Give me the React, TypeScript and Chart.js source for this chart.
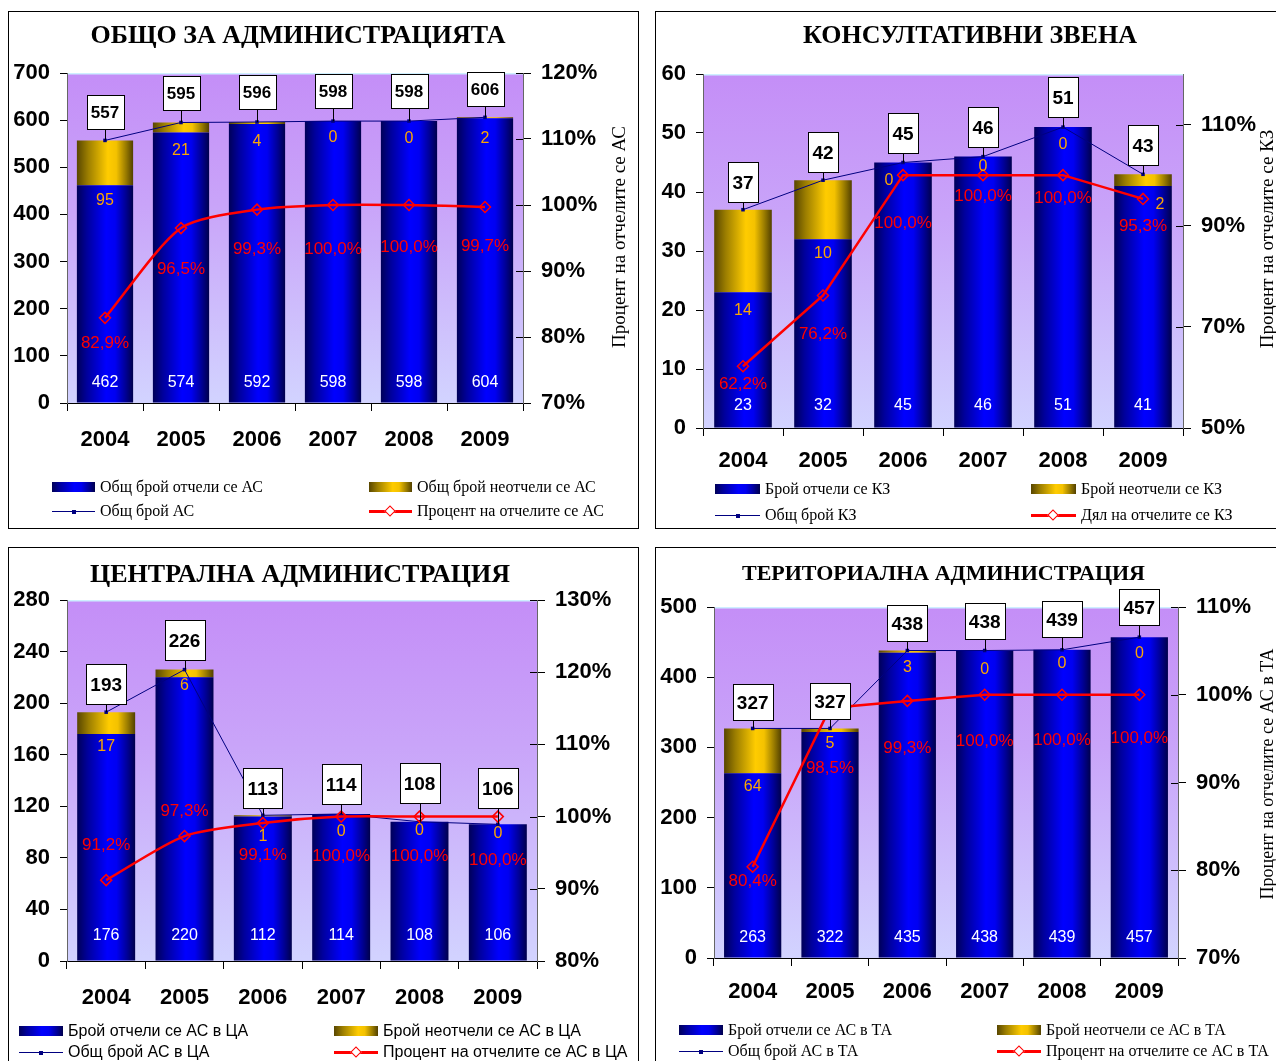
import React, { useEffect, useRef } from "react";
import { Chart, registerables } from "chart.js";

Chart.register(...registerables);

const SANS = "'Liberation Sans', Arial, Helvetica, sans-serif";
const SERIF = "'Liberation Serif', 'Times New Roman', Times, serif";

// Years on the category axis
const years = ["2004", "2005", "2006", "2007", "2008", "2009"];

// Общо за администрацията
const adminReported = [462, 574, 592, 598, 598, 604];
const adminUnreported = [95, 21, 4, 0, 0, 2];
const adminTotal = [557, 595, 596, 598, 598, 606];
const adminShare = [82.9, 96.5, 99.3, 100.0, 100.0, 99.7];
const adminCountTicks = [0, 100, 200, 300, 400, 500, 600, 700];
const adminShareTicks = [70, 80, 90, 100, 110, 120];
const adminLegend = ["Общ брой отчели се АС", "Общ брой неотчели се АС", "Общ брой АС", "Процент на отчелите се АС"];

// Консултативни звена
const kzReported = [23, 32, 45, 46, 51, 41];
const kzUnreported = [14, 10, 0, 0, 0, 2];
const kzTotal = [37, 42, 45, 46, 51, 43];
const kzShare = [62.2, 76.2, 100.0, 100.0, 100.0, 95.3];
const kzCountTicks = [0, 10, 20, 30, 40, 50, 60];
const kzShareTicks = [50, 70, 90, 110];
const kzLegend = ["Брой отчели се КЗ", "Брой неотчели се КЗ", "Общ брой КЗ", "Дял на отчелите се КЗ"];

// Централна администрация
const caReported = [176, 220, 112, 114, 108, 106];
const caUnreported = [17, 6, 1, 0, 0, 0];
const caTotal = [193, 226, 113, 114, 108, 106];
const caShare = [91.2, 97.3, 99.1, 100.0, 100.0, 100.0];
const caCountTicks = [0, 40, 80, 120, 160, 200, 240, 280];
const caShareTicks = [80, 90, 100, 110, 120, 130];
const caLegend = ["Брой отчели се АС в ЦА", "Брой неотчели се АС в ЦА", "Общ брой АС в ЦА", "Процент на отчелите се АС в ЦА"];

// Териториална администрация
const taReported = [263, 322, 435, 438, 439, 457];
const taUnreported = [64, 5, 3, 0, 0, 0];
const taTotal = [327, 327, 438, 438, 439, 457];
const taShare = [80.4, 98.5, 99.3, 100.0, 100.0, 100.0];
const taCountTicks = [0, 100, 200, 300, 400, 500];
const taShareTicks = [70, 80, 90, 100, 110];
const taLegend = ["Брой отчели се АС в ТА", "Брой неотчели се АС в ТА", "Общ брой АС в ТА", "Процент на отчелите се АС в ТА"];

type Stops = [number, string][];
const BLUE_STOPS: Stops = [[0, "#000058"], [0.18, "#00009C"], [0.52, "#0000FF"], [0.68, "#0000F2"], [0.86, "#000098"], [1, "#00004C"]];
const GOLD_STOPS: Stops = [[0, "#584600"], [0.2, "#9C7E00"], [0.55, "#FFCC00"], [0.7, "#F4C200"], [0.87, "#9A7C00"], [1, "#524000"]];
const cssGradient = (s: Stops) => `linear-gradient(to right, ${s.map(([o, c]) => `${c} ${o * 100}%`).join(", ")})`;

const NAVY = "#000080";
const RED = "#FF0000";
const ORANGE = "#F9A602";

type Rect = { left: number; top: number; right: number; bottom: number };

interface Panel {
  key: string;
  title: string;
  titleSize: number;
  titleX: number;
  titleY: number;
  frame: Rect;
  plot: Rect;
  reported: number[];
  unreported: number[];
  total: number[];
  share: number[];
  countMax: number;
  countTicks: number[];
  shareMin: number;
  shareMax: number;
  shareTicks: number[];
  axisTitle?: { text: string; x: number; y: number; size: number };
  legend: string[];
  legendFont: string;
  legendCols: [number, number];
  legendRows: [number, number];
  swatchW: number;
  barPct: number;
  xPad: number;
  tension: number;
  reportedDy: number;
  unreportedDy: number[];
  unreportedDx: number[];
  shareDy: number[];
  boxDy: number[];
  boxFont: number;
  boxH: number;
}

const panels: Panel[] = [
  {
    key: "admin",
    title: "ОБЩО ЗА АДМИНИСТРАЦИЯТА",
    titleSize: 26, titleX: 298, titleY: 35.5,
    frame: { left: 8, top: 11, right: 639, bottom: 529 },
    plot: { left: 67, top: 73, right: 523, bottom: 403 },
    reported: adminReported, unreported: adminUnreported, total: adminTotal, share: adminShare,
    countMax: 700, countTicks: adminCountTicks,
    shareMin: 70, shareMax: 120, shareTicks: adminShareTicks,
    axisTitle: { text: "Процент на отчелите се АС", x: 620.5, y: 237, size: 19 },
    legend: adminLegend, legendFont: SERIF,
    legendCols: [52, 369], legendRows: [487, 511], swatchW: 43,
    barPct: 0.74, xPad: 16, tension: 0.25,
    reportedDy: -20,
    unreportedDy: [15, 18, 18, 17, 18, 20],
    unreportedDx: [0, 0, 0, 0, 0, 0],
    shareDy: [25, 41, 40, 44, 42, 39],
    boxDy: [-28, -30, -30, -30, -30, -28],
    boxFont: 17, boxH: 34,
  },
  {
    key: "kz",
    title: "КОНСУЛТАТИВНИ ЗВЕНА",
    titleSize: 26, titleX: 970, titleY: 35.5,
    frame: { left: 655, top: 11, right: 1300, bottom: 529 },
    plot: { left: 703, top: 74, right: 1183, bottom: 428 },
    reported: kzReported, unreported: kzUnreported, total: kzTotal, share: kzShare,
    countMax: 60, countTicks: kzCountTicks,
    shareMin: 50, shareMax: 120, shareTicks: kzShareTicks,
    axisTitle: { text: "Процент на отчелите се КЗ", x: 1268, y: 239, size: 19 },
    legend: kzLegend, legendFont: SERIF,
    legendCols: [715, 1031], legendRows: [489, 515], swatchW: 45,
    barPct: 0.72, xPad: 12, tension: 0,
    reportedDy: -22,
    unreportedDy: [18, 14, 18, 10, 17, 18],
    unreportedDx: [0, 0, -14, 0, 0, 17],
    shareDy: [18, 39, 48, 21, 23, 27],
    boxDy: [-28, -28, -30, -30, -30, -29],
    boxFont: 19, boxH: 40,
  },
  {
    key: "ca",
    title: "ЦЕНТРАЛНА АДМИНИСТРАЦИЯ",
    titleSize: 26, titleX: 300, titleY: 574,
    frame: { left: 8, top: 547, right: 639, bottom: 1075 },
    plot: { left: 67, top: 600, right: 537, bottom: 961 },
    reported: caReported, unreported: caUnreported, total: caTotal, share: caShare,
    countMax: 280, countTicks: caCountTicks,
    shareMin: 80, shareMax: 130, shareTicks: caShareTicks,
    legend: caLegend, legendFont: SANS,
    legendCols: [19, 334], legendRows: [1031, 1052], swatchW: 44,
    barPct: 0.74, xPad: 16, tension: 0.25,
    reportedDy: -25,
    unreportedDy: [13, 8, 20, 18, 9, 9],
    unreportedDx: [0, 0, 0, 0, 0, 0],
    shareDy: [-35, -25, 32, 40, 40, 44],
    boxDy: [-28, -30, -27, -30, -39, -36],
    boxFont: 19, boxH: 40,
  },
  {
    key: "ta",
    title: "ТЕРИТОРИАЛНА АДМИНИСТРАЦИЯ",
    titleSize: 22, titleX: 943.5, titleY: 573.3,
    frame: { left: 655, top: 547, right: 1300, bottom: 1075 },
    plot: { left: 714, top: 607, right: 1178, bottom: 958 },
    reported: taReported, unreported: taUnreported, total: taTotal, share: taShare,
    countMax: 500, countTicks: taCountTicks,
    shareMin: 70, shareMax: 110, shareTicks: taShareTicks,
    axisTitle: { text: "Процент на отчелите се АС в ТА", x: 1268, y: 774, size: 18 },
    legend: taLegend, legendFont: SERIF,
    legendCols: [679, 997], legendRows: [1030, 1051], swatchW: 44,
    barPct: 0.74, xPad: 13, tension: 0,
    reportedDy: -20,
    unreportedDy: [13, 12, 15, 19, 14, 16],
    unreportedDx: [0, 0, 0, 0, 0, 0],
    shareDy: [15, 60, 47, 47, 46, 44],
    boxDy: [-26, -27, -28, -30, -31, -30],
    boxFont: 19, boxH: 36,
  },
];

const fmtShare = (v: number) => v.toFixed(1).replace(".", ",") + "%";

// Horizontal cylinder-like shading for each bar segment
function barFill(stops: Stops, barPct: number) {
  return (c: any) => {
    const chart = c.chart;
    const xs = chart.scales && chart.scales.x;
    if (c.type !== "data" || !xs || !chart.chartArea) return stops[2][1];
    const cx = xs.getPixelForValue(c.dataIndex);
    const half = ((xs.width / chart.data.labels.length) * barPct) / 2;
    const g = chart.ctx.createLinearGradient(cx - half, 0, cx + half, 0);
    stops.forEach(([o, col]) => g.addColorStop(o, col));
    return g;
  };
}

function decorations(p: Panel, ox: number, oy: number) {
  return {
    id: "decor",
    beforeDraw(chart: any) {
      const { ctx, chartArea: a } = chart;
      ctx.save();
      const g = ctx.createLinearGradient(0, a.top, 0, a.bottom);
      g.addColorStop(0, "#C48EF7");
      g.addColorStop(0.4, "#C9A4F9");
      g.addColorStop(1, "#D2D3FF");
      ctx.fillStyle = g;
      ctx.fillRect(a.left, a.top, a.right - a.left, a.bottom - a.top);
      ctx.strokeStyle = "#CDEFFF";
      ctx.lineWidth = 1.5;
      ctx.beginPath();
      ctx.moveTo(a.left, a.top + 0.75);
      ctx.lineTo(a.right, a.top + 0.75);
      ctx.stroke();
      ctx.restore();
    },
    afterDraw(chart: any) {
      const ctx = chart.ctx;
      const rep = chart.getDatasetMeta(0).data;
      const tot = chart.getDatasetMeta(2).data;
      const sh = chart.getDatasetMeta(3).data;
      const y1 = chart.scales.y1;
      ctx.save();

      // inner half of the share-axis tick marks
      ctx.strokeStyle = "#000";
      ctx.lineWidth = 1;
      y1.ticks.forEach((t: any) => {
        const py = Math.round(y1.getPixelForValue(t.value)) + 0.5;
        ctx.beginPath();
        ctx.moveTo(y1.left - 7, py);
        ctx.lineTo(y1.left, py);
        ctx.stroke();
      });

      ctx.textAlign = "center";
      ctx.textBaseline = "middle";

      for (let i = 0; i < p.reported.length; i++) {
        const bar = rep[i];
        ctx.font = `16px ${SANS}`;
        ctx.fillStyle = "#FFFFFF";
        ctx.fillText(String(p.reported[i]), bar.x, bar.base + p.reportedDy);
        ctx.fillStyle = ORANGE;
        ctx.fillText(String(p.unreported[i]), bar.x + p.unreportedDx[i], bar.y + p.unreportedDy[i]);
        ctx.font = `17px ${SANS}`;
        ctx.fillStyle = RED;
        ctx.fillText(fmtShare(p.share[i]), sh[i].x, sh[i].y + p.shareDy[i]);
      }

      // callout boxes with the totals
      ctx.font = `bold ${p.boxFont}px ${SANS}`;
      for (let i = 0; i < p.total.length; i++) {
        const pt = tot[i];
        const txt = String(p.total[i]);
        const w = Math.ceil(ctx.measureText(txt).width) + 8;
        const cy = pt.y + p.boxDy[i];
        const left = Math.round(pt.x - w / 2) + 0.5;
        const top = Math.round(cy - p.boxH / 2) + 0.5;
        const lx = Math.round(pt.x) + 0.5;
        ctx.strokeStyle = "#000";
        ctx.lineWidth = 1;
        ctx.beginPath();
        ctx.moveTo(lx, top + p.boxH);
        ctx.lineTo(lx, pt.y);
        ctx.stroke();
        ctx.fillStyle = "#FFFFFF";
        ctx.fillRect(left, top, w, p.boxH);
        ctx.strokeRect(left, top, w, p.boxH);
        ctx.fillStyle = "#000";
        ctx.fillText(txt, pt.x, top + p.boxH / 2 + 1);
      }

      if (p.axisTitle) {
        const t = p.axisTitle;
        ctx.translate(t.x - ox, t.y - oy);
        ctx.rotate(-Math.PI / 2);
        ctx.font = `${t.size}px ${SERIF}`;
        ctx.fillStyle = "#000";
        ctx.fillText(t.text, 0, 0);
      }
      ctx.restore();
    },
  };
}

function buildConfig(p: Panel, ox: number, oy: number, cw: number, ch: number): any {
  // Axis boxes are sized to hold their labels, since Chart.js clips labels to the scale box
  const LW = p.plot.left - ox;
  const RW = Math.min(100, ox + cw - p.plot.right);
  const XH = 70;
  const padding = {
    left: 0,
    top: p.plot.top - oy,
    right: ox + cw - p.plot.right - RW,
    bottom: oy + ch - p.plot.bottom - XH,
  };
  const tickFont = { family: SANS, size: 22, weight: "bold" as const };
  return {
    type: "bar",
    data: {
      labels: years,
      datasets: [
        {
          type: "bar", label: p.legend[0], data: p.reported, stack: "bars", yAxisID: "y", order: 3,
          backgroundColor: barFill(BLUE_STOPS, p.barPct), borderWidth: 0,
          barPercentage: p.barPct, categoryPercentage: 1,
        },
        {
          type: "bar", label: p.legend[1], data: p.unreported, stack: "bars", yAxisID: "y", order: 3,
          backgroundColor: barFill(GOLD_STOPS, p.barPct), borderWidth: 0,
          barPercentage: p.barPct, categoryPercentage: 1,
        },
        {
          type: "line", label: p.legend[2], data: p.total, stack: "totals", yAxisID: "y", order: 2,
          borderColor: NAVY, borderWidth: 1, tension: 0,
          pointStyle: "rect", pointRadius: 2.5, pointBackgroundColor: NAVY, pointBorderColor: NAVY, pointBorderWidth: 0,
        },
        {
          type: "line", label: p.legend[3], data: p.share, yAxisID: "y1", order: 1,
          borderColor: RED, borderWidth: 2.5, tension: p.tension,
          pointStyle: "rectRot", pointRadius: 5.5, pointBorderWidth: 1.5,
          pointBackgroundColor: "rgba(0,0,0,0)", pointBorderColor: RED,
        },
      ],
    },
    options: {
      animation: false,
      responsive: false,
      devicePixelRatio: 1,
      events: [],
      layout: { padding },
      plugins: { legend: { display: false }, tooltip: { enabled: false }, title: { display: false } },
      scales: {
        x: {
          type: "category",
          offset: true,
          grid: { display: true, drawOnChartArea: false, offset: true, tickLength: 8, color: "#000", lineWidth: 1 },
          border: { display: true, color: "#000", width: 1 },
          ticks: { color: "#000", font: tickFont, padding: p.xPad, maxRotation: 0, autoSkip: false },
          afterFit: (s: any) => { s.height = XH; },
        },
        y: {
          position: "left",
          stacked: true,
          min: 0,
          max: p.countMax,
          afterBuildTicks: (s: any) => { s.ticks = p.countTicks.map((v) => ({ value: v })); },
          grid: { drawOnChartArea: false, tickLength: 7, color: "#000", lineWidth: 1 },
          border: { display: true, color: "#666", width: 1 },
          ticks: { color: "#000", font: tickFont, padding: 10 },
          afterFit: (s: any) => { s.width = LW; },
        },
        y1: {
          position: "right",
          min: p.shareMin,
          max: p.shareMax,
          afterBuildTicks: (s: any) => { s.ticks = p.shareTicks.map((v) => ({ value: v })); },
          grid: { drawOnChartArea: false, tickLength: 8, color: "#000", lineWidth: 1 },
          border: { display: true, color: "#666", width: 1 },
          ticks: { color: "#000", font: tickFont, padding: 10, callback: (v: any) => `${v}%` },
          afterFit: (s: any) => { s.width = RW; },
        },
      },
    },
    plugins: [decorations(p, ox, oy)],
  };
}

function Swatch({ kind, w }: { kind: number; w: number }) {
  if (kind === 0 || kind === 1) {
    return <div style={{ width: w, height: 10, background: cssGradient(kind === 0 ? BLUE_STOPS : GOLD_STOPS), flex: "none" }} />;
  }
  if (kind === 2) {
    return (
      <div style={{ position: "relative", width: w, height: 12, flex: "none" }}>
        <div style={{ position: "absolute", left: 0, width: w, top: 6, height: 1, background: NAVY }} />
        <div style={{ position: "absolute", left: w / 2 - 2, top: 4.5, width: 4, height: 4, background: NAVY }} />
      </div>
    );
  }
  return (
    <div style={{ position: "relative", width: w, height: 12, flex: "none" }}>
      <div style={{ position: "absolute", left: 0, width: w, top: 5, height: 3, background: RED }} />
      <div
        style={{
          position: "absolute", left: w / 2 - 4.5, top: 2, width: 6, height: 6,
          border: `1.5px solid ${RED}`, background: "#fff", transform: "rotate(45deg)",
        }}
      />
    </div>
  );
}

function ChartPanel({ p }: { p: Panel }) {
  const ref = useRef<HTMLCanvasElement>(null);
  const ox = p.frame.left + 1;
  const oy = p.frame.top + 1;
  const cw = p.frame.right - p.frame.left - 2;
  const ch = p.frame.bottom - p.frame.top - 2;

  useEffect(() => {
    const canvas = ref.current;
    if (!canvas) return;
    const chart = new Chart(canvas, buildConfig(p, ox, oy, cw, ch));
    return () => chart.destroy();
  }, [p]);

  const titleLine = Math.round(p.titleSize * 1.15);
  return (
    <div
      style={{
        position: "absolute", left: p.frame.left, top: p.frame.top,
        width: p.frame.right - p.frame.left, height: p.frame.bottom - p.frame.top,
        border: "1px solid #000", boxSizing: "border-box", background: "#fff",
      }}
    >
      <canvas ref={ref} width={cw} height={ch} style={{ position: "absolute", left: 0, top: 0, width: cw, height: ch }} />
      <div
        style={{
          position: "absolute", left: p.titleX - 400 - ox, width: 800,
          top: p.titleY - p.titleSize * 0.585 - oy, lineHeight: `${titleLine}px`,
          textAlign: "center", fontFamily: SERIF, fontWeight: "bold", fontSize: p.titleSize,
          whiteSpace: "nowrap", color: "#000",
        }}
      >
        {p.title}
      </div>
      {p.legend.map((label, i) => (
        <div
          key={label}
          style={{
            position: "absolute",
            left: p.legendCols[i % 2] - ox,
            top: p.legendRows[Math.floor(i / 2)] - 10 - oy,
            height: 20, display: "flex", alignItems: "center", gap: 5,
            fontFamily: p.legendFont, fontSize: 16, color: "#000", whiteSpace: "nowrap",
          }}
        >
          <Swatch kind={i} w={p.swatchW} />
          <span>{label}</span>
        </div>
      ))}
    </div>
  );
}

export default function App() {
  return (
    <div style={{ position: "absolute", left: 0, top: 0, width: 1276, height: 1061, overflow: "hidden", background: "#fff" }}>
      {panels.map((p) => (
        <ChartPanel key={p.key} p={p} />
      ))}
    </div>
  );
}
